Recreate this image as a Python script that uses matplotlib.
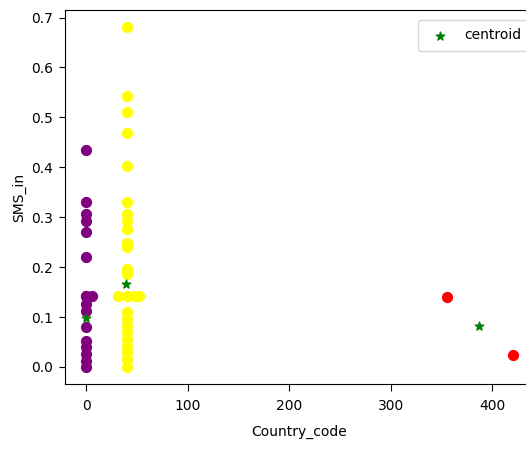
import matplotlib
matplotlib.use("Agg")
import matplotlib.pyplot as plt

# cluster 0 (purple)
c0_x = [0, 0, 0, 0, 0, 0, 0, 0, 0, 6, 0, 0, 0, 0, 0, 0, 0]
c0_y = [0.435, 0.33, 0.307, 0.293, 0.27, 0.22, 0.142, 0.142, 0.126, 0.142,
        0.112, 0.08, 0.052, 0.04, 0.026, 0.012, 0.0]
# cluster 1 (yellow)
c1_x = [40, 40, 40, 40, 40, 40, 40, 40, 40, 40, 40, 40, 40, 40, 31, 48, 52,
        40, 40, 40, 40, 40, 40, 40, 40, 40]
c1_y = [0.681, 0.543, 0.511, 0.469, 0.403, 0.33, 0.307, 0.293, 0.277, 0.248,
        0.24, 0.196, 0.186, 0.142, 0.142, 0.142, 0.142,
        0.11, 0.096, 0.082, 0.07, 0.056, 0.042, 0.03, 0.016, 0.0]
# cluster 2 (red)
c2_x = [355, 420]
c2_y = [0.14, 0.024]
# centroids
cent_x = [0, 39, 387]
cent_y = [0.098, 0.166, 0.082]

fig = plt.figure(figsize=(5.26, 4.49), dpi=100)
ax = fig.add_axes([65/526, 1-384/449, (534-65)/526, (384-10)/449])
ax.scatter(c0_x, c0_y, color="purple", s=50)
ax.scatter(c1_x, c1_y, color="yellow", s=50)
ax.scatter(c2_x, c2_y, color="red", s=50)
ax.scatter(cent_x, cent_y, color="green", marker="*", s=40, label="centroid")
ax.set_xlabel("Country_code", labelpad=8)
ax.set_ylabel("SMS_in")
ax.tick_params(axis="x", length=5, pad=6)
ax.tick_params(axis="y", length=4.5, pad=4)
ax.legend(loc="upper left", bbox_to_anchor=(418/526, 1-20/449),
          bbox_transform=fig.transFigure, borderaxespad=0, borderpad=0.6,
          handletextpad=0.7)
fig.savefig("out.png", dpi=100)
